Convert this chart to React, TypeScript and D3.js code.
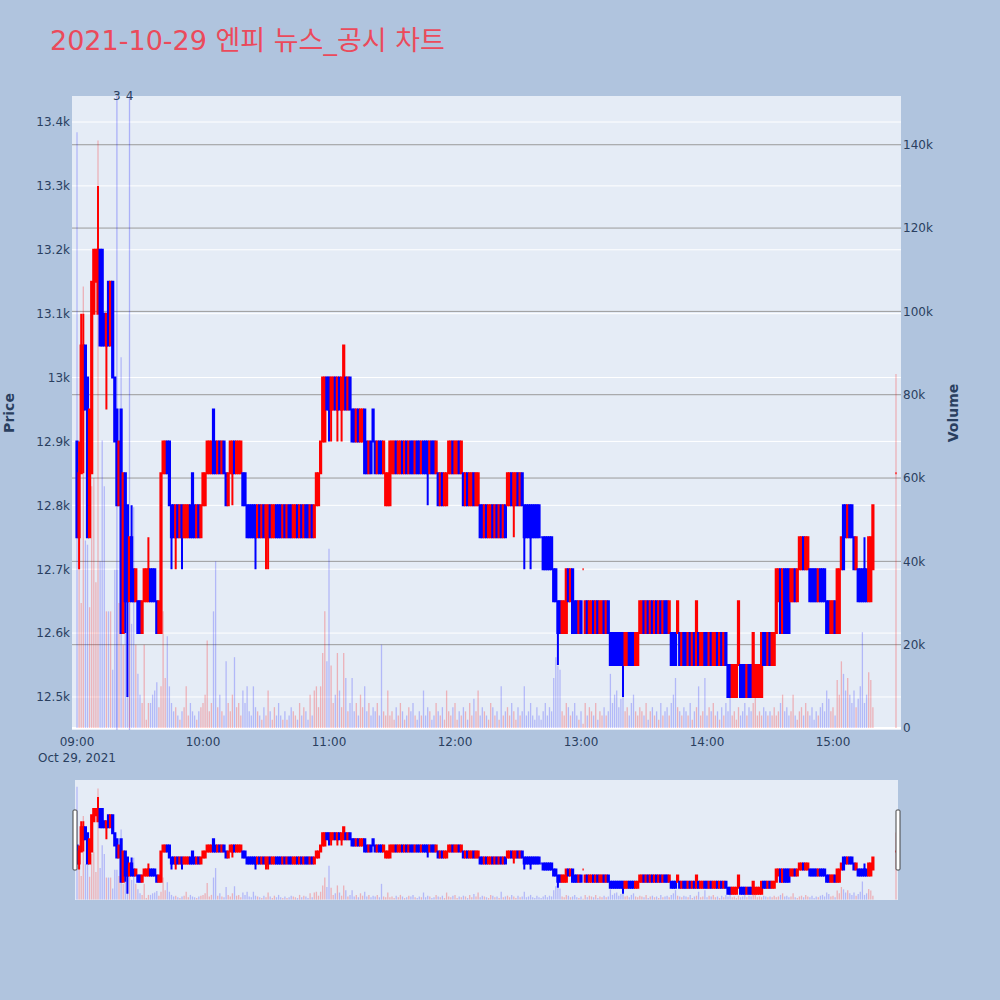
import React from "react";
import * as d3 from "d3";

// ---------- DATA (1-minute candles, 09:00 .. 15:19, then 15:30 closing auction) ----------
const sessionDate = "2021-10-29";
const chartTitle = "2021-10-29 엔피 뉴스_공시 차트";

const opens = [
  12900,12750,12850,12950,13050,13000,12750,12850,13100,13150,
  13100,13200,13200,13100,13050,13150,13050,13150,13000,12950,
  12800,12950,12600,12850,12800,12650,12750,12700,12650,12650,
  12650,12600,12650,12650,12650,12700,12700,12700,12650,12600,
  12600,12850,12850,12900,12900,12800,12800,12750,12800,12750,
  12800,12750,12750,12750,12800,12850,12800,12750,12800,12750,
  12800,12800,12850,12850,12850,12950,12900,12850,12900,12850,
  12900,12850,12800,12850,12850,12900,12850,12850,12850,12850,
  12850,12800,12800,12800,12800,12800,12750,12800,12750,12800,
  12750,12750,12800,12750,12750,12800,12800,12800,12750,12800,
  12750,12800,12800,12750,12750,12800,12750,12800,12750,12800,
  12800,12750,12800,12750,12800,12800,12850,12900,12900,13000,
  13000,12950,12950,13000,12950,13000,12950,12950,13000,12950,
  13000,12950,12950,12900,12950,12900,12900,12950,12900,12850,
  12900,12950,12900,12850,12900,12900,12850,12800,12800,12800,
  12850,12850,12900,12850,12850,12900,12850,12900,12850,12900,
  12900,12850,12900,12900,12850,12900,12900,12900,12850,12900,
  12900,12850,12850,12800,12850,12800,12800,12850,12850,12900,
  12850,12850,12900,12850,12850,12800,12850,12800,12800,12850,
  12800,12800,12800,12800,12750,12800,12750,12750,12800,12750,
  12800,12750,12800,12750,12800,12800,12800,12850,12800,12800,
  12850,12800,12850,12800,12800,12800,12800,12800,12800,12800,
  12800,12750,12750,12750,12750,12750,12750,12700,12700,12650,
  12650,12600,12600,12600,12700,12650,12700,12650,12650,12600,
  12650,12700,12600,12650,12600,12600,12650,12600,12650,12600,
  12600,12650,12600,12650,12600,12600,12600,12600,12600,12600,
  12600,12550,12550,12600,12600,12600,12550,12550,12600,12600,
  12650,12600,12650,12600,12650,12600,12650,12600,12650,12600,
  12650,12650,12600,12600,12600,12600,12600,12600,12550,12600,
  12600,12550,12600,12550,12600,12550,12600,12550,12550,12600,
  12600,12550,12600,12550,12550,12600,12550,12600,12550,12600,
  12550,12550,12500,12500,12500,12550,12550,12550,12550,12500,
  12550,12550,12500,12500,12500,12500,12500,12600,12600,12550,
  12600,12550,12550,12600,12650,12700,12600,12700,12700,12700,
  12650,12650,12700,12650,12700,12700,12750,12700,12700,12700,
  12700,12700,12700,12650,12700,12700,12700,12650,12650,12600,
  12600,12650,12600,12600,12700,12800,12800,12750,12800,12800,
  12750,12700,12700,12700,12700,12700,12700,12650,12650,12700,
];

const closes = [
  12750,12850,13050,13050,12950,12750,12950,13150,13200,13200,
  13200,13050,13050,13050,13100,13050,13150,13000,12900,12800,
  12900,12600,12850,12650,12650,12750,12650,12650,12700,12600,
  12600,12650,12700,12700,12700,12650,12650,12650,12600,12650,
  12850,12900,12900,12850,12800,12750,12750,12800,12750,12800,
  12750,12800,12800,12800,12750,12750,12750,12800,12750,12800,
  12850,12850,12900,12900,12900,12850,12850,12900,12850,12900,
  12850,12800,12850,12900,12900,12850,12900,12900,12900,12800,
  12800,12750,12750,12750,12750,12750,12800,12750,12800,12750,
  12800,12800,12750,12800,12800,12750,12750,12750,12800,12750,
  12800,12750,12750,12800,12800,12750,12800,12750,12800,12750,
  12750,12800,12750,12800,12850,12850,12900,13000,13000,12950,
  12950,13000,13000,12950,13000,12950,13000,13050,12950,13000,
  12950,12900,12900,12950,12900,12950,12950,12850,12850,12900,
  12850,12900,12850,12900,12850,12850,12900,12850,12850,12900,
  12900,12900,12850,12900,12900,12850,12900,12850,12900,12850,
  12850,12900,12850,12850,12900,12850,12850,12850,12900,12850,
  12850,12900,12800,12850,12800,12850,12850,12900,12900,12850,
  12900,12900,12850,12900,12800,12850,12800,12850,12850,12800,
  12850,12850,12750,12750,12800,12750,12800,12800,12750,12800,
  12750,12800,12750,12800,12750,12850,12850,12800,12850,12850,
  12800,12850,12800,12750,12750,12750,12750,12750,12750,12750,
  12750,12750,12700,12700,12700,12700,12700,12650,12650,12600,
  12600,12650,12650,12700,12650,12700,12600,12600,12600,12650,
  12600,12700,12650,12600,12650,12650,12600,12650,12600,12650,
  12650,12600,12650,12600,12550,12550,12550,12550,12550,12550,
  12550,12600,12600,12550,12550,12550,12600,12600,12650,12650,
  12600,12650,12600,12650,12600,12650,12600,12650,12600,12650,
  12600,12600,12650,12550,12550,12550,12650,12550,12600,12550,
  12550,12600,12550,12600,12550,12650,12550,12600,12600,12550,
  12550,12600,12550,12600,12600,12550,12600,12550,12600,12550,
  12500,12500,12550,12550,12550,12650,12500,12500,12500,12550,
  12500,12500,12600,12550,12550,12550,12600,12550,12550,12600,
  12550,12600,12600,12700,12700,12600,12700,12600,12600,12600,
  12700,12700,12650,12700,12750,12750,12700,12750,12750,12650,
  12650,12650,12650,12700,12650,12650,12650,12600,12600,12650,
  12650,12600,12700,12700,12750,12700,12750,12800,12750,12750,
  12700,12750,12650,12650,12650,12650,12650,12750,12750,12800,
];

// wicks beyond the body: [minute index, price]
const highWicks: [number, number][] = [
  [1, 12900], [2, 13100], [3, 13100], [10, 13300], [26, 12800], [34, 12750], [375, 12750],
];
const lowWicks: [number, number][] = [
  [1, 12700], [3, 12850], [14, 12950], [23, 12600], [24, 12500], [45, 12700], [47, 12700],
  [50, 12700], [74, 12800], [85, 12700], [90, 12700], [91, 12700], [120, 12900], [121, 12900],
  [124, 12900], [126, 12900], [167, 12800], [208, 12750], [213, 12700], [216, 12700],
  [229, 12550], [260, 12500],
];

const volumes = [
  143000,45000,30000,106000,45000,44000,29000,58000,60000,35000,
  141000,40000,69000,58000,28000,28000,28000,14000,38000,38000,
  30000,89000,20000,56000,50000,30000,25000,53000,20000,13000,
  8000,6000,20000,2000,6000,6000,8000,9000,11000,5000,
  10000,28000,12000,22000,10000,6000,4000,5000,3000,2000,
  4000,5000,10000,3000,6000,4000,3000,2000,4000,5000,
  6000,8000,21000,4000,6000,28000,40000,5000,8000,4000,
  3000,16000,6000,4000,8000,17000,5000,6000,3000,9000,
  6000,10000,4000,3000,10000,5000,4000,3000,2000,5000,
  3000,9000,4000,2000,5000,3000,6000,3000,2000,4000,
  2000,3000,5000,4000,3000,2000,6000,3000,5000,4000,
  2000,8000,3000,9000,10000,5000,10000,18000,28000,16000,
  43000,15000,6000,8000,18000,9000,5000,18000,12000,4000,
  6000,12000,4000,6000,3000,8000,5000,10000,4000,6000,
  3000,5000,4000,6000,3000,20000,4000,3000,9000,3000,
  4000,2000,5000,3000,6000,4000,2000,3000,5000,4000,
  6000,3000,2000,4000,3000,9000,3000,5000,4000,2000,
  3000,6000,4000,3000,5000,2000,9000,4000,3000,5000,
  6000,2000,4000,3000,5000,4000,2000,6000,3000,7000,
  4000,9000,3000,5000,4000,3000,2000,6000,5000,3000,
  4000,2000,10000,3000,4000,5000,3000,6000,4000,2000,
  5000,3000,4000,10000,3000,4000,6000,3000,2000,5000,
  3000,2000,4000,6000,3000,5000,4000,12000,17000,15000,
  14000,4000,3000,6000,5000,3000,4000,6000,3000,2000,
  4000,1000,6000,3000,5000,4000,3000,6000,2000,4000,
  3000,5000,3000,4000,13000,6000,8000,9000,5000,7000,
  10000,4000,5000,3000,6000,8000,4000,3000,5000,4000,
  3000,6000,2000,4000,5000,3000,4000,2000,6000,3000,
  4000,5000,3000,6000,8000,12000,5000,4000,3000,5000,
  4000,3000,6000,2000,4000,5000,10000,3000,4000,12000,
  3000,5000,4000,6000,3000,4000,2000,5000,3000,6000,
  4000,9000,3000,4000,2000,5000,3000,4000,6000,3000,
  5000,4000,6000,9000,3000,4000,3000,5000,4000,3000,
  4000,3000,5000,3000,4000,6000,8000,4000,5000,3000,
  4000,8000,3000,2000,4000,5000,3000,6000,4000,3000,
  5000,2000,4000,3000,5000,6000,4000,9000,7000,4000,
  5000,3000,11500,8000,16000,13000,9000,12000,8000,6000,
  9000,5000,7000,10000,23000,6000,8000,13400,11500,5000,
];

// closing auction
const closingTime = "15:30";
const closingPrice = 12850;
const closingVolume = 85000;

// news / disclosure markers
const newsTimes = ["09:19", "09:25"];
const newsLabels = ["3", "4"];

const priceTicks = [12500, 12600, 12700, 12800, 12900, 13000, 13100, 13200, 13300, 13400];
const volumeTicks = [0, 20000, 40000, 60000, 80000, 100000, 120000, 140000];
const hourTicks = ["09:00", "10:00", "11:00", "12:00", "13:00", "14:00", "15:00"];

// ---------- helpers ----------
const parseT = (hm: string) => d3.timeParse("%Y-%m-%d %H:%M")(`${sessionDate} ${hm}`) as Date;
const t0 = parseT("09:00");
const minuteDate = (i: number) => d3.timeMinute.offset(t0, i);

type Candle = { t: Date; o: number; h: number; l: number; c: number; v: number; up: boolean };

const highMap = new Map(highWicks);
const lowMap = new Map(lowWicks);

const candles: Candle[] = [];
opens.forEach((o, i) => {
  const c = closes[i];
  const prev = i > 0 ? closes[i - 1] : o;
  const up = c > o || (c === o && c > prev);
  candles.push({
    t: minuteDate(i),
    o,
    c,
    h: Math.max(o, c, highMap.get(i) ?? 0),
    l: Math.min(o, c, lowMap.get(i) ?? Infinity),
    v: volumes[i],
    up,
  });
});
{
  const prev = closes[closes.length - 1];
  candles.push({
    t: parseT(closingTime),
    o: closingPrice,
    c: closingPrice,
    h: closingPrice,
    l: closingPrice,
    v: closingVolume,
    up: closingPrice > prev,
  });
}

// ---------- layout ----------
const PL = 72, PR = 901, PT = 96, PB = 730;
const SL = 75, SR = 898, ST = 780, SB = 900;

const x = d3
  .scaleTime()
  .domain([d3.timeSecond.offset(t0, -143), d3.timeSecond.offset(t0, 392 * 60 + 23)])
  .range([PL, PR]);
const yP = d3.scaleLinear().domain([12448.3, 13440.7]).range([PB, PT]);
const yV = d3.scaleLinear().domain([-480, 151700]).range([PB, PT]);
const ySP = d3.scaleLinear().domain([12448.3, 13440.7]).range([SB, ST]);
const ySV = d3.scaleLinear().domain([-480, 151700]).range([SB, ST]);

const RED = "#ff0000";
const BLUE = "#0000ff";
const RED_FILL = "rgba(255,0,0,0.5)";
const BLUE_FILL = "rgba(0,0,255,0.5)";
const RED_VOL = "rgba(255,0,0,0.25)";
const BLUE_VOL = "rgba(0,0,255,0.22)";
const FONT = "'DejaVu Sans', Verdana, 'Noto Sans CJK KR', sans-serif";
const TXT = "#2a3f5f";

const fmtK = d3.format("~s");
const fmtHM = d3.timeFormat("%H:%M");

function candlePath(d: Candle, ys: d3.ScaleLinear<number, number>, hw: number) {
  const cx = x(d.t);
  const yTop = ys(Math.max(d.o, d.c));
  const yBot = ys(Math.min(d.o, d.c));
  const yH = ys(d.h);
  const yL = ys(d.l);
  return `M${cx - hw},${yTop}H${cx + hw}V${yBot}H${cx - hw}Z M${cx},${yH}V${yTop} M${cx},${yBot}V${yL}`;
}

function Series({ ys, yv }: { ys: any; yv: any }) {
  return (
    <g>
      {candles.map((d, i) => (
        <line
          key={"v" + i}
          x1={x(d.t)}
          x2={x(d.t)}
          y1={yv(0)}
          y2={yv(d.v)}
          stroke={d.up ? RED_VOL : BLUE_VOL}
          strokeWidth={1.3}
        />
      ))}
      {candles.map((d, i) => (
        <path
          key={"c" + i}
          d={candlePath(d, ys, 0.6)}
          fill={d.up ? RED_FILL : BLUE_FILL}
          stroke={d.up ? RED : BLUE}
          strokeWidth={2}
        />
      ))}
    </g>
  );
}

export default function App() {
  return (
    <svg
      width={1000}
      height={1000}
      style={{ position: "absolute", left: 0, top: 0, fontFamily: FONT }}
    >
      <defs>
        <clipPath id="mainClip">
          <rect x={PL} y={PT} width={PR - PL} height={PB - PT} />
        </clipPath>
        <clipPath id="sliderClip">
          <rect x={SL} y={ST} width={SR - SL} height={SB - ST} />
        </clipPath>
      </defs>
      <rect x={0} y={0} width={1000} height={1000} fill="#B0C4DE" />

      {/* title */}
      <text x={50} y={50} fontSize={27} fill="#EB4A5B">
        {chartTitle}
      </text>

      {/* main plot background */}
      <rect x={PL} y={PT} width={PR - PL} height={PB - PT} fill="#E5ECF6" />

      {/* price grid (white) */}
      {priceTicks.map((p) => (
        <line key={"pg" + p} x1={PL} x2={PR} y1={yP(p)} y2={yP(p)} stroke="#ffffff" strokeWidth={1} />
      ))}
      {/* volume grid (grey) */}
      {volumeTicks.map((v) =>
        v === 0 ? (
          <line key={"vg" + v} x1={PL} x2={PR} y1={yV(v)} y2={yV(v)} stroke="#ffffff" strokeWidth={2} />
        ) : (
          <line key={"vg" + v} x1={PL} x2={PR} y1={yV(v)} y2={yV(v)} stroke="#9a9a9a" strokeWidth={1} />
        )
      )}

      {/* news markers */}
      {newsTimes.map((t, i) => (
        <g key={"n" + i}>
          <line
            x1={x(parseT(t))}
            x2={x(parseT(t))}
            y1={PT}
            y2={PB}
            stroke="rgba(0,0,255,0.25)"
            strokeWidth={1.3}
          />
          <text x={x(parseT(t))} y={PT + 4} fontSize={12} fill={TXT} textAnchor="middle">
            {newsLabels[i]}
          </text>
        </g>
      ))}

      <g clipPath="url(#mainClip)">
        <Series ys={yP} yv={yV} />
      </g>

      {/* left axis: price */}
      {priceTicks.map((p) => (
        <text key={"pt" + p} x={70} y={yP(p)} dy="0.36em" fontSize={12} fill={TXT} textAnchor="end">
          {fmtK(p)}
        </text>
      ))}
      {/* right axis: volume */}
      {volumeTicks.map((v) => (
        <text key={"vt" + v} x={903} y={yV(v)} dy="0.36em" fontSize={12} fill={TXT} textAnchor="start">
          {fmtK(v)}
        </text>
      ))}
      {/* x axis */}
      {hourTicks.map((h) => (
        <text key={"xt" + h} x={x(parseT(h))} y={746} fontSize={12} fill={TXT} textAnchor="middle">
          {fmtHM(parseT(h))}
        </text>
      ))}
      <text x={x(t0)} y={762} fontSize={12} fill={TXT} textAnchor="middle">
        Oct 29, 2021
      </text>

      {/* axis titles */}
      <text
        transform={`translate(14,${(PT + PB) / 2}) rotate(-90)`}
        fontSize={14}
        fontWeight="bold"
        fill={TXT}
        textAnchor="middle"
      >
        Price
      </text>
      <text
        transform={`translate(958,${(PT + PB) / 2}) rotate(-90)`}
        fontSize={14}
        fontWeight="bold"
        fill={TXT}
        textAnchor="middle"
      >
        Volume
      </text>

      {/* range slider */}
      <rect x={SL} y={ST} width={SR - SL} height={SB - ST} fill="#E5ECF6" />
      <g clipPath="url(#sliderClip)">
        <Series ys={ySP} yv={ySV} />
      </g>
      <rect x={SL - 2} y={810} width={4} height={60} fill="#ffffff" stroke="#444" strokeWidth={1} rx={1} />
      <rect x={SR - 2} y={810} width={4} height={60} fill="#ffffff" stroke="#444" strokeWidth={1} rx={1} />
    </svg>
  );
}
